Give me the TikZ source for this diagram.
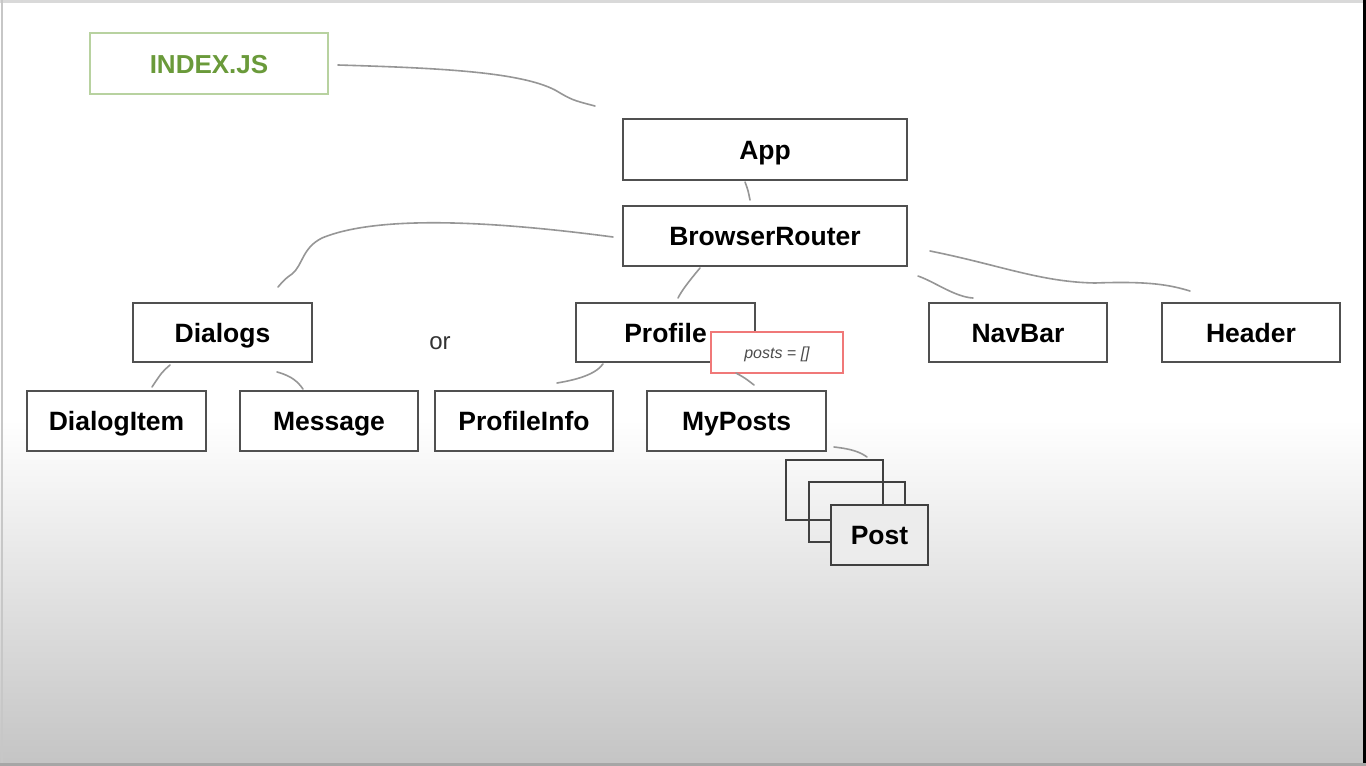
\documentclass[tikz,border=0pt]{standalone}
\usepackage{fontspec}
\setmainfont{Liberation Sans}
\definecolor{boxline}{RGB}{80,80,80}
\definecolor{wirec}{RGB}{150,150,150}
\definecolor{idxgreen}{RGB}{106,154,58}
\definecolor{idxline}{RGB}{184,210,160}
\definecolor{postsred}{RGB}{240,120,120}
\definecolor{bgbottom}{RGB}{196,196,196}
\definecolor{postfill}{RGB}{236,236,236}
\tikzset{
  compbox/.style={draw=boxline, line width=2pt, fill=white, inner sep=0pt,
    text height=19pt, text depth=0pt,
    font=\fontsize{26.5}{26.5}\selectfont\bfseries, text=black},
  idxbox/.style={draw=idxline, line width=2pt, fill=white, inner sep=0pt,
    text height=19pt, text depth=0pt,
    font=\fontsize{26}{26}\selectfont\bfseries, text=idxgreen},
  statebox/.style={draw=postsred, line width=1.6pt, fill=white, inner sep=0pt,
    text height=11pt, text depth=0pt,
    font=\fontsize{16}{16}\selectfont\itshape, text=black!70},
  stackbox/.style={draw=black!75, line width=1.5pt, inner sep=0pt,
    minimum width=97pt, minimum height=60pt},
  wire/.style={draw=wirec, line width=1.6pt, line cap=round},
}
\begin{document}
\begin{tikzpicture}[x=1pt,y=-1pt]
\useasboundingbox (0,0) rectangle (1366,766);
% page background: white top, soft grey fade toward the bottom
\fill[white] (0,0) rectangle (1366,421);
\shade[top color=white, bottom color=bgbottom] (0,420) rectangle (1366,766);
% frame
\draw[line width=3pt, draw=black!15] (0,1.5) -- (1364,1.5);
\draw[line width=2pt, draw=black!22] (2,0) -- (2,766);
\draw[line width=3pt, draw=black] (1364.5,0) -- (1364.5,766);
\draw[line width=3pt, draw=black!35] (0,764.5) -- (1366,764.5);

% entry point
\node[idxbox, minimum width=238pt, minimum height=61pt] (index) at (209,63.5) {INDEX.JS};

% component tree
\node[compbox, minimum width=284pt, minimum height=61pt] (app) at (765,149.5) {App};
\node[compbox, minimum width=284pt, minimum height=60pt] (router) at (765,236) {BrowserRouter};
\node[compbox, minimum width=179pt, minimum height=59pt] (dialogs) at (222.5,332.5) {Dialogs};
\node[compbox, minimum width=179pt, minimum height=59pt] (profile) at (665.5,332.5) {Profile};
\node[compbox, minimum width=178pt, minimum height=59pt] (navbar) at (1018,332.5) {NavBar};
\node[compbox, minimum width=178pt, minimum height=59pt] (header) at (1251,332.5) {Header};
\node[font=\fontsize{24}{24}\selectfont, text=black!80] (or) at (440,343) {or};
\node[statebox, minimum width=132pt, minimum height=41pt] (posts) at (777,352.5) {posts = []};

\node[compbox, minimum width=179pt, minimum height=60pt] (dialogitem) at (116.5,421) {DialogItem};
\node[compbox, minimum width=178pt, minimum height=60pt] (message) at (329,421) {Message};
\node[compbox, minimum width=178pt, minimum height=60pt] (profileinfo) at (524,421) {ProfileInfo};
\node[compbox, minimum width=179pt, minimum height=60pt] (myposts) at (736.5,421) {MyPosts};

% stacked Post instances
\node[stackbox] (post1) at (834.5,490) {};
\node[stackbox, minimum width=96pt] (post2) at (857,512) {};
\node[stackbox, fill=postfill, text height=19pt, text depth=0pt,
  font=\fontsize{26.5}{26.5}\selectfont\bfseries] (post3) at (879.5,535) {Post};

% connector end points
\coordinate (idx-a) at (338,65);
\coordinate (idx-b) at (595,106);
\coordinate (app-a) at (745,182);
\coordinate (app-b) at (750,200);
\coordinate (rd-a) at (613,237);
\coordinate (rd-b) at (278,287);
\coordinate (rp-a) at (700,268);
\coordinate (rp-b) at (678,298);
\coordinate (rn-a) at (918,276);
\coordinate (rn-b) at (973,298);
\coordinate (rh-a) at (930,251);
\coordinate (rh-b) at (1190,291);
\coordinate (di-a) at (170,365);
\coordinate (di-b) at (152,387);
\coordinate (dm-a) at (277,372);
\coordinate (dm-b) at (303,389);
\coordinate (pi-a) at (603,364);
\coordinate (pi-b) at (557,383);
\coordinate (pm-a) at (736,373);
\coordinate (pm-b) at (754,385);
\coordinate (mp-a) at (834,447);
\coordinate (mp-b) at (867,457);

% hand-drawn connectors
\draw[wire] (idx-a) .. controls (440,68) and (520,72) .. (555,90) .. controls (572,100) .. (idx-b);
\draw[wire] (app-a) .. controls (748,190) .. (app-b);
\draw[wire] (rd-a) .. controls (500,222) and (380,214) .. (322,238)
  .. controls (302,248) and (303,265) .. (292,274) .. controls (285,279) .. (rd-b);
\draw[wire] (rp-a) .. controls (690,280) and (682,290) .. (rp-b);
\draw[wire] (rn-a) .. controls (935,282) and (955,297) .. (rn-b);
\draw[wire] (rh-a) .. controls (1000,265) and (1040,282) .. (1095,283)
  .. controls (1150,281) and (1170,285) .. (rh-b);
\draw[wire] (di-a) .. controls (162,372) .. (di-b);
\draw[wire] (dm-a) .. controls (292,376) and (298,382) .. (dm-b);
\draw[wire] (pi-a) .. controls (595,375) and (575,380) .. (pi-b);
\draw[wire] (pm-a) .. controls (745,378) .. (pm-b);
\draw[wire] (mp-a) .. controls (852,449) and (860,452) .. (mp-b);
\end{tikzpicture}
\end{document}
